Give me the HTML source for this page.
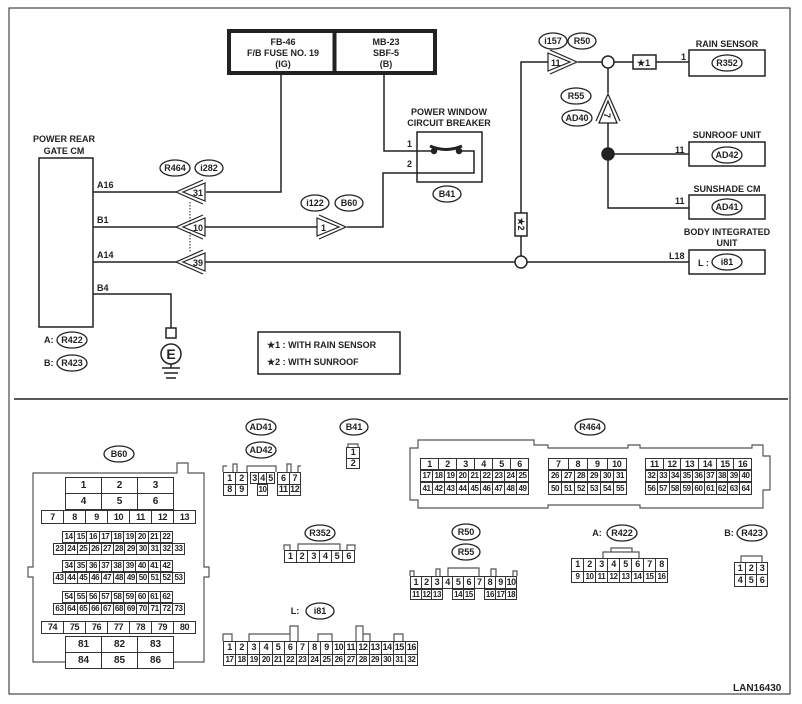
<!DOCTYPE html>
<html><head><meta charset="utf-8"><style>
body{margin:0;background:#fff;width:802px;height:704px;position:relative;overflow:hidden;font-family:"Liberation Sans",Arial,sans-serif}
svg{position:absolute;left:0;top:0}
table.g{position:absolute;border-collapse:collapse;table-layout:fixed;font:bold 8px "Liberation Sans",sans-serif;color:#222;background:#fff}
table.g td{border:1px solid #333;text-align:center;padding:0;line-height:1;overflow:hidden;white-space:nowrap;letter-spacing:-0.4px}
table.b td{font-size:10px;letter-spacing:0}
</style></head><body>
<svg width="802" height="704" viewBox="0 0 802 704" font-family="Liberation Sans, Arial, sans-serif" font-size="9" font-weight="bold" fill="none" stroke="#222" stroke-width="1.5">
<rect x="9" y="8" width="781" height="686" stroke-width="1"/>
<line x1="14" y1="399" x2="788" y2="399" stroke-width="1.5"/>
<!-- fuse box -->
<rect x="229" y="31" width="206" height="42" stroke-width="4"/>
<line x1="334.5" y1="31" x2="334.5" y2="73" stroke-width="4"/>
<g fill="#222" stroke="none" text-anchor="middle">
<text x="283" y="45">FB-46</text><text x="283" y="56">F/B FUSE NO. 19</text><text x="283" y="67">(IG)</text>
<text x="386" y="45">MB-23</text><text x="386" y="56">SBF-5</text><text x="386" y="67">(B)</text>
<text x="64" y="142">POWER REAR</text><text x="64" y="154">GATE CM</text>
<text x="449" y="115">POWER WINDOW</text><text x="449" y="126">CIRCUIT BREAKER</text>
<text x="727" y="47">RAIN SENSOR</text><text x="727" y="138">SUNROOF UNIT</text><text x="727" y="192">SUNSHADE CM</text>
<text x="727" y="235">BODY INTEGRATED</text><text x="727" y="246">UNIT</text>
</g>
<g fill="#222" stroke="none">
<text x="97" y="188">A16</text><text x="97" y="223">B1</text><text x="97" y="258">A14</text><text x="97" y="291">B4</text>
<text x="407" y="147">1</text><text x="407" y="167">2</text>
<text x="681" y="60">1</text><text x="675" y="153">11</text><text x="675" y="204">11</text><text x="669" y="259">L18</text>
<text x="44" y="343">A:</text><text x="44" y="366">B:</text>
<text x="267" y="348">★1  : WITH RAIN SENSOR</text><text x="267" y="365">★2  : WITH SUNROOF</text>
<text x="733" y="691" font-size="10">LAN16430</text>
</g>
<!-- wires -->
<rect x="39" y="158" width="54" height="169"/>
<path d="M281 74V192H206M93 192H176M93 227H176M93 262H176M205 227H317M347 227H383V173H474V151H459M384 74V151H433M205 262H689M521 262V62H548M578 62H602M614 62H633M656 62H689M608 68V93M608 123V208H689M608 154H689M93 294H171V328"/>
<line x1="190" y1="202" x2="190" y2="252" stroke-width="1" stroke-dasharray="1.5,1.5"/>
<!-- breaker -->
<rect x="417" y="132" width="65" height="50"/>
<path d="M430 146Q446 153 462 146" stroke-width="3"/>
<circle cx="434" cy="151" r="2.5" fill="#222"/><circle cx="459" cy="151" r="2.5" fill="#222"/>
<!-- left connectors -->
<g stroke-width="1.2">
<polygon points="183,192 205,183 205,201" fill="#fff"/><polyline points="203,180 176,192 203,204"/>
<polygon points="183,227 205,218 205,236" fill="#fff"/><polyline points="203,215 176,227 203,239"/>
<polygon points="183,262 205,253 205,271" fill="#fff"/><polyline points="203,250 176,262 203,274"/>
<polygon points="317,218 339,227 317,236" fill="#fff"/><polyline points="319,215 346,227 319,239"/>
<polygon points="548,53 570,62 548,71" fill="#fff"/><polyline points="550,50 577,62 550,74"/>
<polygon points="599,123 608,101 617,123" fill="#fff"/><polyline points="596,121 608,94 620,121"/>
</g>
<g fill="#222" stroke="none" font-size="9">
<text x="193" y="196">31</text><text x="193" y="231">10</text><text x="193" y="266">39</text>
<text x="321" y="231">1</text><text x="551" y="66">11</text><text x="605" y="120" transform="rotate(90 608 116)">7</text>
</g>
<circle cx="608" cy="62" r="6" fill="#fff"/><circle cx="521" cy="262" r="6" fill="#fff"/>
<circle cx="608" cy="154" r="6" fill="#222"/>
<rect x="633" y="55" width="23" height="14" fill="#fff"/><text x="637" y="66" fill="#222" stroke="none">★1</text>
<rect x="515" y="213" width="12" height="23" fill="#fff"/><text x="521" y="227" text-anchor="middle" fill="#222" stroke="none" transform="rotate(90 521 224)">★2</text>
<!-- boxes -->
<rect x="689" y="50" width="76" height="26"/><rect x="689" y="142" width="76" height="24"/>
<rect x="689" y="195" width="76" height="24"/><rect x="689" y="250" width="76" height="24"/>
<text x="698" y="266" fill="#222" stroke="none">L :</text>
<!-- ground -->
<rect x="166" y="328" width="10" height="10"/><circle cx="171" cy="354" r="10"/>
<text x="171" y="359" font-size="14" text-anchor="middle" fill="#222" stroke="none">E</text>
<path d="M171 364V368M162 368H180M164 373H178M166 378H176"/>
<rect x="258" y="332" width="142" height="42"/>
<!-- ellipses -->
<g stroke-width="1.3" fill="#fff">
<ellipse cx="175" cy="168" rx="15" ry="8"/><ellipse cx="209" cy="168" rx="14" ry="8"/>
<ellipse cx="315" cy="203" rx="14" ry="8"/><ellipse cx="349" cy="203" rx="14" ry="8"/>
<ellipse cx="447" cy="194" rx="14" ry="8"/>
<ellipse cx="553" cy="41" rx="14" ry="8"/><ellipse cx="582" cy="41" rx="14" ry="8"/>
<ellipse cx="576" cy="96" rx="15" ry="8"/><ellipse cx="577" cy="118" rx="15" ry="8"/>
<ellipse cx="727" cy="63" rx="15" ry="8"/><ellipse cx="727" cy="155" rx="15" ry="8"/>
<ellipse cx="727" cy="207" rx="15" ry="8"/><ellipse cx="727" cy="262" rx="15" ry="8"/>
<ellipse cx="72" cy="340" rx="15" ry="8"/><ellipse cx="72" cy="363" rx="15" ry="8"/>
<ellipse cx="119" cy="454" rx="15" ry="8"/><ellipse cx="261" cy="427" rx="15" ry="8"/><ellipse cx="261" cy="450" rx="15" ry="8"/>
<ellipse cx="354" cy="427" rx="14" ry="8"/><ellipse cx="320" cy="533" rx="15" ry="8"/><ellipse cx="320" cy="611" rx="14" ry="8"/>
<ellipse cx="590" cy="427" rx="15" ry="8"/><ellipse cx="466" cy="532" rx="14" ry="8"/><ellipse cx="466" cy="552" rx="14" ry="8"/>
<ellipse cx="622" cy="533" rx="15" ry="8"/><ellipse cx="752" cy="533" rx="15" ry="8"/>
</g>
<g fill="#222" stroke="none" text-anchor="middle" font-size="9">
<text x="175" y="171">R464</text><text x="209" y="171">i282</text><text x="315" y="206">i122</text><text x="349" y="206">B60</text>
<text x="447" y="197">B41</text><text x="553" y="44">i157</text><text x="582" y="44">R50</text>
<text x="576" y="99">R55</text><text x="577" y="121">AD40</text>
<text x="727" y="66">R352</text><text x="727" y="158">AD42</text><text x="727" y="210">AD41</text><text x="727" y="265">i81</text>
<text x="72" y="343">R422</text><text x="72" y="366">R423</text>
<text x="119" y="457">B60</text><text x="261" y="430">AD41</text><text x="261" y="453">AD42</text><text x="354" y="430">B41</text>
<text x="320" y="536">R352</text><text x="320" y="614">i81</text><text x="590" y="430">R464</text>
<text x="466" y="535">R50</text><text x="466" y="555">R55</text><text x="622" y="536">R422</text><text x="752" y="536">R423</text>
<text x="295" y="614">L:</text><text x="597" y="536">A:</text><text x="729" y="536">B:</text>
</g>
<!-- connector outlines -->
<g stroke-width="1.2" stroke="#555">
<path d="M33 662V577H28V567H33V473H177V463H188V473H204V567H209V577H204V662Z"/>
<path d="M410 448H418V440H534V445H548V448H628V445H640V448H752V445H763V456H770V490H763V508H640V505H548V508H418V500H410Z"/>
<path d="M223 472V466H227M233 472V464H237V472M247 472V466H276V472M287 472V464H291V472M298 472V466H301"/>
<path d="M284 550V545H290V550M298 550V544H340V550M347 550V545H355V550"/>
<path d="M223 641V634H232V641M249 641V634H290V641M290 634V626H298V641M318 641V634H332V641M356 641V626H363V641M363 634H370V641M394 641V634H403V641"/>
<path d="M410 576V571H414V576M436 576V569H440V576M448 576V568H479V576M491 576V569H496V576M513 576V571H517V576"/>
<path d="M603 558V552H639V558M611 552V548H632V552"/>
<path d="M741 562V556H762V562"/>
<path d="M348 447V444H358V447"/>
</g>
</svg>

<!-- B60 -->
<table class="g b" style="left:65px;top:477px;width:109px;height:33px"><tr><td>1</td><td>2</td><td>3</td></tr><tr><td>4</td><td>5</td><td>6</td></tr></table>
<table class="g" style="left:41px;top:510px;width:155px;height:14px;font-size:9px"><tr><td>7</td><td>8</td><td>9</td><td>10</td><td>11</td><td>12</td><td>13</td></tr></table>
<table class="g" style="left:62px;top:531px;width:111px;height:12px"><tr><td>14</td><td>15</td><td>16</td><td>17</td><td>18</td><td>19</td><td>20</td><td>21</td><td>22</td></tr></table>
<table class="g" style="left:53px;top:543px;width:132px;height:12px"><tr><td>23</td><td>24</td><td>25</td><td>26</td><td>27</td><td>28</td><td>29</td><td>30</td><td>31</td><td>32</td><td>33</td></tr></table>
<table class="g" style="left:62px;top:560px;width:111px;height:12px"><tr><td>34</td><td>35</td><td>36</td><td>37</td><td>38</td><td>39</td><td>40</td><td>41</td><td>42</td></tr></table>
<table class="g" style="left:53px;top:572px;width:132px;height:12px"><tr><td>43</td><td>44</td><td>45</td><td>46</td><td>47</td><td>48</td><td>49</td><td>50</td><td>51</td><td>52</td><td>53</td></tr></table>
<table class="g" style="left:62px;top:591px;width:111px;height:12px"><tr><td>54</td><td>55</td><td>56</td><td>57</td><td>58</td><td>59</td><td>60</td><td>61</td><td>62</td></tr></table>
<table class="g" style="left:53px;top:603px;width:132px;height:12px"><tr><td>63</td><td>64</td><td>65</td><td>66</td><td>67</td><td>68</td><td>69</td><td>70</td><td>71</td><td>72</td><td>73</td></tr></table>
<table class="g" style="left:41px;top:621px;width:155px;height:13px;font-size:9px"><tr><td>74</td><td>75</td><td>76</td><td>77</td><td>78</td><td>79</td><td>80</td></tr></table>
<table class="g b" style="left:65px;top:636px;width:109px;height:33px"><tr><td>81</td><td>82</td><td>83</td></tr><tr><td>84</td><td>85</td><td>86</td></tr></table>
<!-- AD41 -->
<table class="g" style="left:223px;top:472px;width:25px;height:24px;font-size:9px"><tr><td>1</td><td>2</td></tr><tr><td>8</td><td>9</td></tr></table>
<table class="g" style="left:250px;top:472px;width:25px;height:12px;font-size:9px"><tr><td>3</td><td>4</td><td>5</td></tr></table>
<table class="g" style="left:257px;top:484px;width:11px;height:12px"><tr><td>10</td></tr></table>
<table class="g" style="left:277px;top:472px;width:24px;height:24px;font-size:9px"><tr><td>6</td><td>7</td></tr><tr><td>11</td><td>12</td></tr></table>
<!-- B41 -->
<table class="g" style="left:346px;top:447px;width:14px;height:22px;font-size:9px"><tr><td>1</td></tr><tr><td>2</td></tr></table>
<!-- R352 -->
<table class="g" style="left:284px;top:550px;width:71px;height:13px;font-size:9px"><tr><td>1</td><td>2</td><td>3</td><td>4</td><td>5</td><td>6</td></tr></table>
<!-- i81 -->
<table class="g" style="left:223px;top:641px;width:195px;height:25px;font-size:9px"><tr><td>1</td><td>2</td><td>3</td><td>4</td><td>5</td><td>6</td><td>7</td><td>8</td><td>9</td><td>10</td><td>11</td><td>12</td><td>13</td><td>14</td><td>15</td><td>16</td></tr><tr style="font-size:8px"><td>17</td><td>18</td><td>19</td><td>20</td><td>21</td><td>22</td><td>23</td><td>24</td><td>25</td><td>26</td><td>27</td><td>28</td><td>29</td><td>30</td><td>31</td><td>32</td></tr></table>
<!-- R464 -->
<table class="g" style="left:420px;top:458px;width:109px;height:12px;font-size:9px"><tr><td>1</td><td>2</td><td>3</td><td>4</td><td>5</td><td>6</td></tr></table>
<table class="g" style="left:420px;top:470px;width:109px;height:12px"><tr><td>17</td><td>18</td><td>19</td><td>20</td><td>21</td><td>22</td><td>23</td><td>24</td><td>25</td></tr></table>
<table class="g" style="left:420px;top:482px;width:109px;height:13px"><tr><td>41</td><td>42</td><td>43</td><td>44</td><td>45</td><td>46</td><td>47</td><td>48</td><td>49</td></tr></table>
<table class="g" style="left:548px;top:458px;width:79px;height:12px;font-size:9px"><tr><td>7</td><td>8</td><td>9</td><td>10</td></tr></table>
<table class="g" style="left:548px;top:470px;width:79px;height:12px"><tr><td>26</td><td>27</td><td>28</td><td>29</td><td>30</td><td>31</td></tr></table>
<table class="g" style="left:548px;top:482px;width:79px;height:13px"><tr><td>50</td><td>51</td><td>52</td><td>53</td><td>54</td><td>55</td></tr></table>
<table class="g" style="left:645px;top:458px;width:107px;height:12px;font-size:9px"><tr><td>11</td><td>12</td><td>13</td><td>14</td><td>15</td><td>16</td></tr></table>
<table class="g" style="left:645px;top:470px;width:107px;height:12px"><tr><td>32</td><td>33</td><td>34</td><td>35</td><td>36</td><td>37</td><td>38</td><td>39</td><td>40</td></tr></table>
<table class="g" style="left:645px;top:482px;width:107px;height:13px"><tr><td>56</td><td>57</td><td>58</td><td>59</td><td>60</td><td>61</td><td>62</td><td>63</td><td>64</td></tr></table>
<!-- R50 -->
<table class="g" style="left:410px;top:576px;width:107px;height:13px;font-size:9px"><tr><td>1</td><td>2</td><td>3</td><td>4</td><td>5</td><td>6</td><td>7</td><td>8</td><td>9</td><td>10</td></tr></table>
<table class="g" style="left:410px;top:589px;width:107px;height:11px"><tr><td>11</td><td>12</td><td>13</td><td style="border:none"></td><td>14</td><td>15</td><td style="border:none"></td><td>16</td><td>17</td><td>18</td></tr></table>
<!-- R422 -->
<table class="g" style="left:571px;top:558px;width:97px;height:25px;font-size:9px"><tr><td>1</td><td>2</td><td>3</td><td>4</td><td>5</td><td>6</td><td>7</td><td>8</td></tr><tr style="font-size:8px"><td>9</td><td>10</td><td>11</td><td>12</td><td>13</td><td>14</td><td>15</td><td>16</td></tr></table>
<!-- R423 -->
<table class="g" style="left:734px;top:562px;width:34px;height:25px;font-size:9px"><tr><td>1</td><td>2</td><td>3</td></tr><tr><td>4</td><td>5</td><td>6</td></tr></table>
</body></html>
